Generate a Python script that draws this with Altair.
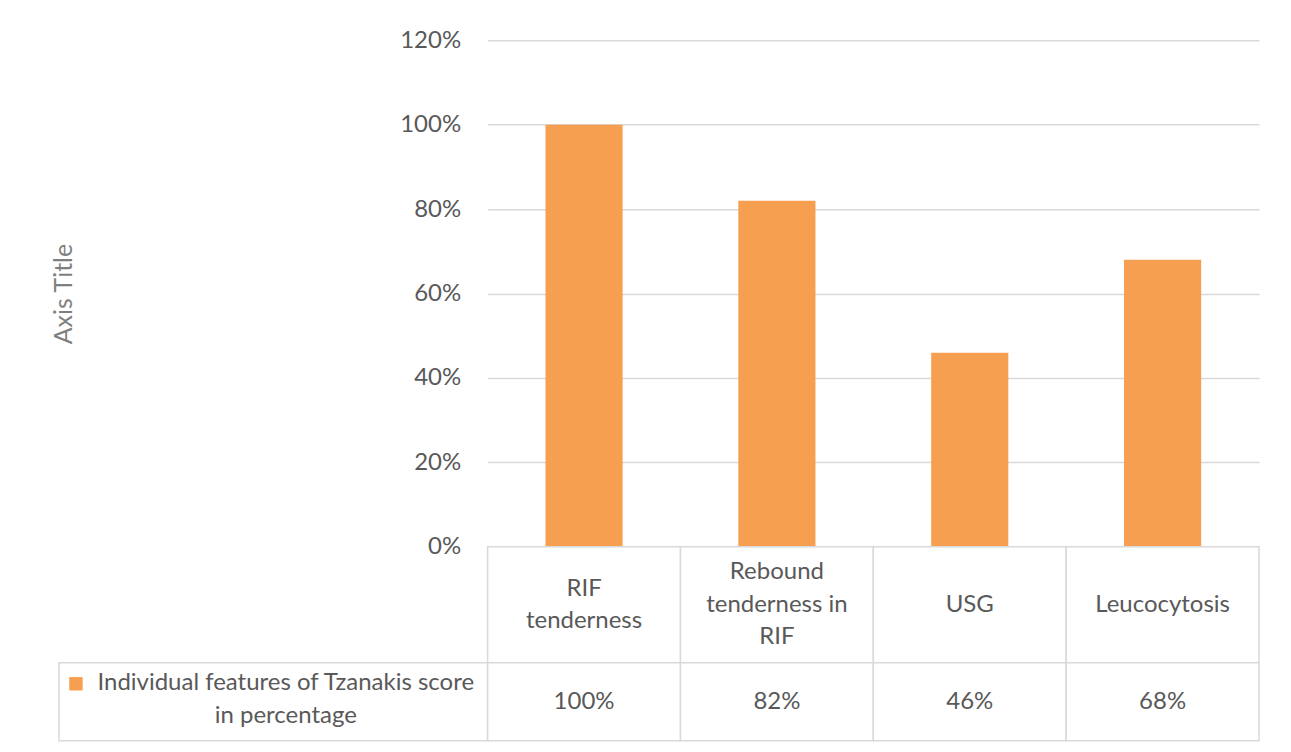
import altair as alt
import pandas as pd

# Chart values
categories = ["RIF\ntenderness", "Rebound\ntenderness in\nRIF", "USG", "Leucocytosis"]
percentages = [1.00, 0.82, 0.46, 0.68]
series_name = ["Individual features of Tzanakis score\nin percentage"]
y_ticks = [0, 0.2, 0.4, 0.6, 0.8, 1.0, 1.2]

FONT = "Lato"
FONT_SIZE = 24
TEXT = "#595959"
GRID = "#d9d9d9"
ORANGE = "#F79F50"

PLOT_W = 772
LEFT_W = 429
BAR_H = 507
HEAD_H = 116
ROW_H = 78
LINE_H = 32.5

df = pd.DataFrame({"feature": categories, "pct": percentages})
legend_df = pd.DataFrame({"series": series_name})


def spacer(h):
    return alt.Chart(pd.DataFrame({"v": []})).mark_point(opacity=0).properties(
        width=LEFT_W, height=h
    )


# Column chart
bars = alt.Chart(df).mark_bar(color=ORANGE).encode(
    x=alt.X("feature:N", sort=categories, axis=None,
            scale=alt.Scale(paddingInner=0.6, paddingOuter=0.3)),
    y=alt.Y("pct:Q",
            scale=alt.Scale(domain=[0, 1.2], nice=False),
            axis=alt.Axis(values=y_ticks, format=".0%", grid=True,
                          gridColor=GRID, gridWidth=1.5, domain=False,
                          ticks=False, labelPadding=27, labelFont=FONT,
                          labelFontSize=FONT_SIZE, labelColor=TEXT,
                          title="Axis Title", titleFont=FONT,
                          titleFontSize=25, titleFontWeight="normal",
                          titleColor="#7f7f7f", titlePadding=323)),
).properties(width=PLOT_W, height=BAR_H)

# Data table below the columns
table_x = alt.X("feature:N", sort=categories, axis=None,
                scale=alt.Scale(paddingInner=0, paddingOuter=0))

head_cells = alt.Chart(df).mark_rect(fill="white", stroke=GRID, strokeWidth=1.5).encode(x=table_x)
# wrapped category names are centred in their cell
head_text = alt.Chart(df).transform_calculate(
    ty=f"{HEAD_H / 2} - (length(split(datum.feature, '\\n')) - 1) * {LINE_H / 2}"
).mark_text(
    font=FONT, fontSize=FONT_SIZE, color=TEXT, lineBreak="\n", lineHeight=LINE_H,
    baseline="middle"
).encode(x=table_x, y=alt.Y("ty:Q", scale=None), text="feature:N")
header = (head_cells + head_text).properties(width=PLOT_W, height=HEAD_H)

val_cells = alt.Chart(df).mark_rect(fill="white", stroke=GRID, strokeWidth=1.5).encode(x=table_x)
val_text = alt.Chart(df).mark_text(
    font=FONT, fontSize=FONT_SIZE, color=TEXT
).encode(x=table_x, text=alt.Text("pct:Q", format=".0%"))
values = (val_cells + val_text).properties(width=PLOT_W, height=ROW_H)

# Legend key cell of the table
key_square = alt.Chart(legend_df).mark_square(size=180, color=ORANGE, opacity=1).encode(
    x=alt.value(17), y=alt.value(21)
)
key_text = alt.Chart(legend_df).mark_text(
    font=FONT, fontSize=FONT_SIZE, color=TEXT, lineBreak="\n", lineHeight=33,
    baseline="middle"
).encode(x=alt.value(227), y=alt.value(20), text="series:N")
legend = (key_square + key_text).properties(
    width=LEFT_W, height=ROW_H,
    view=alt.ViewBackground(stroke=GRID, strokeWidth=1.5),
)

chart = alt.concat(
    spacer(BAR_H), bars,
    spacer(HEAD_H), header,
    legend, values,
    columns=2, spacing=0, bounds="flush",
).properties(
    padding={"left": 51, "top": 27, "right": 30, "bottom": 11}
).configure_view(stroke="transparent")

chart.save("out.html", embed_options={"renderer": "svg", "actions": False})
